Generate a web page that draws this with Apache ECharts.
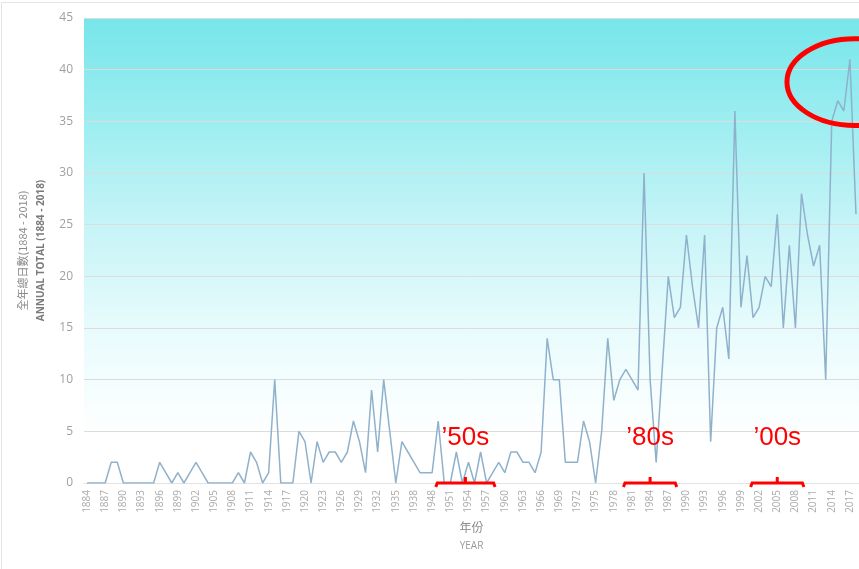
<!DOCTYPE html>
<html>
<head>
<meta charset="utf-8">
<script src="https://cdn.jsdelivr.net/npm/echarts@6/dist/echarts.min.js"></script>
<style>
  html, body { margin: 0; padding: 0; background: #fff; }
  #chart { width: 859px; height: 569px; }
</style>
</head>
<body>
<div id="chart"></div>
<script>
// years with records (no data 1940-1946)
const years = [
  '1884','1885','1886','1887','1888','1889','1890','1891','1892','1893',
  '1894','1895','1896','1897','1898','1899','1900','1901','1902','1903',
  '1904','1905','1906','1907','1908','1909','1910','1911','1912','1913',
  '1914','1915','1916','1917','1918','1919','1920','1921','1922','1923',
  '1924','1925','1926','1927','1928','1929','1930','1931','1932','1933',
  '1934','1935','1936','1937','1938','1939',
  '1947','1948','1949','1950','1951','1952','1953','1954','1955','1956',
  '1957','1958','1959','1960','1961','1962','1963','1964','1965','1966',
  '1967','1968','1969','1970','1971','1972','1973','1974','1975','1976',
  '1977','1978','1979','1980','1981','1982','1983','1984','1985','1986',
  '1987','1988','1989','1990','1991','1992','1993','1994','1995','1996',
  '1997','1998','1999','2000','2001','2002','2003','2004','2005','2006',
  '2007','2008','2009','2010','2011','2012','2013','2014','2015','2016',
  '2017','2018'
];
const totals = [
  0,0,0,0,2,2,0,0,0,0,
  0,0,2,1,0,1,0,1,2,1,
  0,0,0,0,0,1,0,3,2,0,
  1,10,0,0,0,5,4,0,4,2,
  3,3,2,3,6,4,1,9,3,10,
  5,0,4,3,2,1,
  1,1,6,0,0,3,0,2,0,3,
  0,1,2,1,3,3,2,2,1,3,
  14,10,10,2,2,2,6,4,0,5,
  14,8,10,11,10,9,30,10,2,11,
  20,16,17,24,19,15,24,4,15,17,
  12,36,17,22,16,17,20,19,26,15,
  23,15,28,24,21,23,10,35,37,36,
  41,26
];
const yTicks = [0, 45, 5]; // min, max, step

// red call-outs
const decadeLabels = ['’50s', '’80s', '’00s'];
const decadeFrom = ['1949', '1980', '2001'];
const decadeTo = ['1958', '1988', '2009'];
const circleYear = '2017';
const circleValue = 38.8;

const chart = echarts.init(document.getElementById('chart'));

const option = {
  animation: false,
  backgroundColor: '#fff',
  grid: {
    left: 84,
    top: 18,
    width: 776,
    height: 465,
    show: true,
    borderWidth: 0,
    backgroundColor: new echarts.graphic.LinearGradient(0, 0, 0, 1, [
      { offset: 0, color: '#76e6ea' },
      { offset: 0.24, color: '#a0eef1' },
      { offset: 0.45, color: '#c7f4f7' },
      { offset: 0.67, color: '#e8fbfc' },
      { offset: 0.9, color: '#ffffff' }
    ])
  },
  xAxis: {
    type: 'category',
    data: years,
    boundaryGap: true,
    axisTick: { show: false },
    axisLine: { lineStyle: { color: '#e2e2e2' } },
    axisLabel: {
      interval: 2,
      rotate: 90,
      fontSize: 10,
      color: '#ababab',
      margin: 7,
      fontFamily: 'Open Sans'
    },
    name: '{a|年份}\n{b|YEAR}',
    nameLocation: 'middle',
    nameGap: 34,
    nameTextStyle: {
      rich: {
        a: { fontSize: 12, color: '#8a8a8a', fontFamily: 'Noto Sans CJK TC', lineHeight: 20 },
        b: { fontSize: 10, color: '#9a9a9a', fontFamily: 'Open Sans', lineHeight: 18 }
      }
    }
  },
  yAxis: {
    type: 'value',
    min: yTicks[0],
    max: yTicks[1],
    interval: yTicks[2],
    axisLine: { show: false },
    axisTick: { show: false },
    axisLabel: { fontSize: 12, color: '#a0a0a0', margin: 11, fontFamily: 'Open Sans' },
    splitLine: { lineStyle: { color: '#dcdcdc', width: 1 } },
    name: '{a|全年總日數(1884 - 2018)}\n{b|ANNUAL TOTAL (1884 - 2018)}',
    nameLocation: 'middle',
    nameRotate: 90,
    nameGap: 34,
    nameTextStyle: {
      rich: {
        a: { fontSize: 11, color: '#8a8a8a', fontFamily: 'Noto Sans CJK TC', lineHeight: 18 },
        b: { fontSize: 10, color: '#7a7a7a', fontWeight: 'bold', fontFamily: 'Open Sans', lineHeight: 18 }
      }
    }
  },
  series: [{
    type: 'line',
    data: totals,
    symbol: 'none',
    lineStyle: { color: '#8fb1cc', width: 1.5 }
  }]
};

chart.setOption(option);

function drawCallouts() {
  const px = (i) => chart.convertToPixel({ xAxisIndex: 0 }, i);
  const py = (v) => chart.convertToPixel({ yAxisIndex: 0 }, v);
  const bw = px(1) - px(0);
  const y0 = py(0);
  const elements = [{
    type: 'rect',
    shape: { x: 1.5, y: 2.5, width: 900, height: 600 },
    style: { fill: 'none', stroke: '#e4e4e4', lineWidth: 1 },
    silent: true
  }];
  decadeLabels.forEach((lab, k) => {
    const x1 = px(years.indexOf(decadeFrom[k])) - 0.4 * bw;
    const x2 = px(years.indexOf(decadeTo[k])) + 0.4 * bw;
    const xc = (x1 + x2) / 2;
    elements.push({
      type: 'polyline',
      shape: { points: [[x1, y0 + 4], [x1 + 1.5, y0], [x2 - 1.5, y0], [x2, y0 + 4]] },
      style: { fill: 'none', stroke: '#ff0000', lineWidth: 3 },
      z: 100
    });
    elements.push({
      type: 'line',
      shape: { x1: xc, y1: y0, x2: xc, y2: y0 - 6 },
      style: { stroke: '#ff0000', lineWidth: 3 },
      z: 100
    });
    elements.push({
      type: 'text',
      style: {
        text: lab, x: xc, y: py(4.4), align: 'center', verticalAlign: 'middle',
        fontSize: 26, fill: '#ff0000', fontFamily: 'Liberation Sans'
      },
      z: 100
    });
  });
  const ci = years.indexOf(circleYear);
  elements.push({
    type: 'ellipse',
    shape: { cx: px(ci) + 0.8 * bw, cy: py(circleValue), rx: 11.2 * bw, ry: py(0) - py(4.2) },
    style: { fill: 'none', stroke: '#ff0000', lineWidth: 5 },
    z: 100
  });
  chart.setOption({ graphic: { elements: elements } });
}
drawCallouts();
</script>
</body>
</html>
